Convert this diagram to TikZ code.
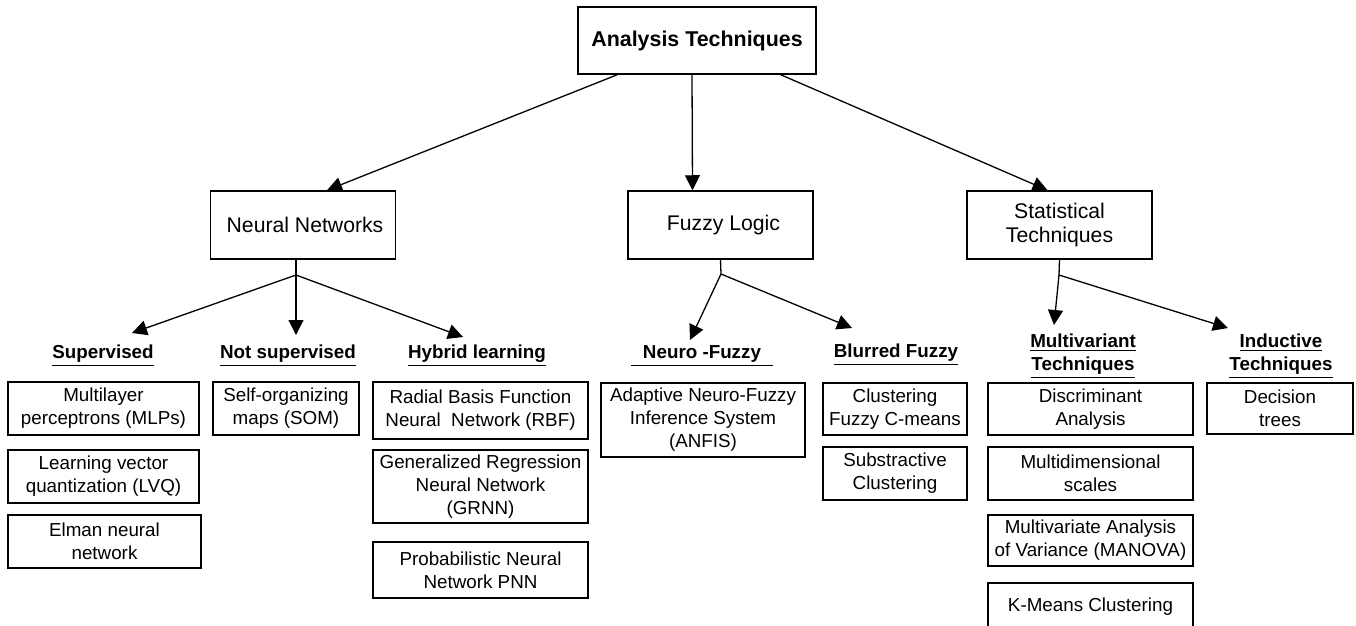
\documentclass[tikz,border=0pt]{standalone}
\usepackage{fontspec}
\setmainfont{Liberation Sans}
\usepackage{tikz}
\usetikzlibrary{arrows.meta}

\begin{document}
\begin{tikzpicture}[
  x=0.5pt, y=-0.5pt,
  headbox/.style={draw, line width=0.75pt, align=center, inner sep=0pt,
    font=\bfseries\fontsize{10.7}{13}\selectfont},
  mainbox/.style={draw, line width=0.75pt, align=center, inner sep=0pt,
    minimum width=92.5pt, minimum height=34pt, font=\fontsize{10.6}{12}\selectfont},
  leaf/.style={draw, line width=0.7pt, align=center, inner sep=0pt,
    font=\fontsize{9.4}{11.5}\selectfont},
  cat/.style={align=center, inner sep=0pt, font=\bfseries\fontsize{9.4}{11.5}\selectfont},
  link/.style={line width=0.65pt},
  flow/.style={-{Triangle[length=7.5pt,width=7.5pt]}, line width=0.65pt}
]
\useasboundingbox (0,0) rectangle (1356,626);
\clip (0,0) rectangle (1356,626);

\node[headbox, minimum width=119pt, minimum height=33.5pt] (analysis) at (697,40.5) {Analysis Techniques};

\node[mainbox] (nn) at (303,225) {\hspace{2pt}Neural Networks};
\node[mainbox] (fl) at (720.5,225) {\hspace{3pt}Fuzzy Logic};
\node[mainbox] (st) at (1059.5,225) {Statistical\\Techniques};

\draw[flow] ([xshift=20pt]analysis.south west) -- ([xshift=12pt]nn.north);
\draw[flow] ([xshift=-2.5pt]analysis.south) -- ([xshift=-14pt]fl.north);
\draw[flow] ([xshift=-18pt]analysis.south east) -- ([xshift=-6pt]st.north);

% neural networks
\coordinate (nnj) at (296,275);
\coordinate (supt) at (132,333);
\coordinate (nsupt) at (296,335);
\coordinate (hybt) at (463,337);
\draw[link] ([xshift=-3.5pt]nn.south) -- (nnj);
\draw[flow] (nnj) -- (supt);
\draw[flow] (nnj) -- (nsupt);
\draw[flow] (nnj) -- (hybt);

\node[cat] (sup) at (103,356) {\underline{Supervised}};
\node[cat] (nsup) at (288,356) {\underline{Not supervised}};
\node[cat] (hyb) at (477,356) {\underline{Hybrid learning}};

\node[leaf, minimum width=95.5pt, minimum height=26.5pt] (mlp) at (103.5,408.5) {Multilayer\\perceptrons (MLPs)};
\node[leaf, minimum width=95.5pt, minimum height=26.5pt] (lvq) at (103.5,476.5) {Learning vector\\quantization (LVQ)};
\node[leaf, minimum width=96.5pt, minimum height=26.5pt] (elman) at (104.5,541.5) {Elman neural\\network};
\node[leaf, minimum width=73pt, minimum height=26.5pt] (som) at (286,408.5) {Self-organizing\\maps (SOM)};
\node[leaf, minimum width=107.5pt, minimum height=28.5pt] (rbf) at (480.5,410.5) {Radial Basis Function\\Neural\ \ Network (RBF)};
\node[leaf, minimum width=107.5pt, minimum height=36.5pt] (grnn) at (480.5,486.5) {Generalized Regression\\Neural Network\\(GRNN)};
\node[leaf, minimum width=107.5pt, minimum height=28pt] (pnn) at (480.5,570) {Probabilistic Neural\\Network PNN};

% fuzzy logic
\coordinate (flj) at (721,274);
\coordinate (nft) at (690,340);
\coordinate (bft) at (852,328);
\draw[link] (fl.south) -- (flj);
\draw[flow] (flj) -- (nft);
\draw[flow] (flj) -- (bft);

\node[cat] (nf) at (702,356) {\underline{\hspace{6pt}Neuro -Fuzzy\hspace{6pt}}};
\node[cat] (bf) at (896,355) {\underline{Blurred Fuzzy}};

\node[leaf, minimum width=102pt, minimum height=37pt] (anfis) at (703,420) {Adaptive Neuro-Fuzzy\\Inference System\\(ANFIS)};
\node[leaf, minimum width=72pt, minimum height=26pt] (fcm) at (895,409) {Clustering\\Fuzzy C-means};
\node[leaf, minimum width=72pt, minimum height=26.5pt] (subc) at (895,473.5) {Substractive\\Clustering};

% statistical techniques
\coordinate (stj) at (1059,275);
\coordinate (mvt) at (1054,325);
\coordinate (indt) at (1228,328);
\draw[link] (st.south) -- (stj);
\draw[flow] (stj) -- (mvt);
\draw[flow] (stj) -- (indt);

\node[cat] (mv) at (1083,356) {\underline{Multivariant}\\\underline{Techniques}};
\node[cat] (ind) at (1281,356) {\underline{Inductive}\\\underline{Techniques}};

\node[leaf, minimum width=102.5pt, minimum height=26pt] (disc) at (1090.5,409) {Discriminant\\Analysis};
\node[leaf, minimum width=73pt, minimum height=25.5pt] (dt) at (1280,408.5) {Decision\\trees};
\node[leaf, minimum width=102.5pt, minimum height=26.5pt] (mds) at (1090.5,473.5) {Multidimensional\\scales};
\node[leaf, minimum width=102.5pt, minimum height=25.5pt] (manova) at (1090.5,540.5) {Multivariate Analysis\\of Variance (MANOVA)};
\node[leaf, minimum width=102.5pt, minimum height=24pt] (kmeans) at (1090.5,607) {K-Means Clustering};
\end{tikzpicture}
\end{document}
